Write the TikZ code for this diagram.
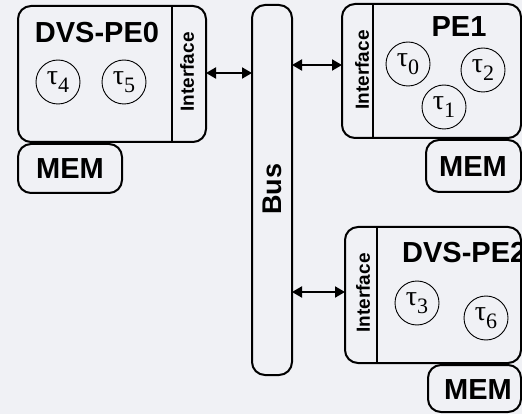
\documentclass[tikz,border=0pt]{standalone}
\usepackage{fontspec}
\setmainfont{Liberation Sans}
\newfontfamily\taufont{Liberation Serif}
\usetikzlibrary{arrows.meta}
\definecolor{bgcol}{RGB}{240,241,245}
\newcommand{\task}[1]{{\taufont\fontsize{28}{30}\selectfont τ\raisebox{-0.3em}{\fontsize{22}{24}\selectfont #1}}}
\tikzset{
  pebox/.style={draw,line width=2pt,rounded corners=13pt,inner sep=0pt,outer sep=0pt},
  ifstrip/.style={inner sep=0pt,outer sep=0pt},
  iflabel/.style={font=\bfseries\fontsize{19}{21}\selectfont,rotate=90,inner sep=0pt},
  pename/.style={font=\bfseries\fontsize{29}{32}\selectfont,inner sep=0pt},
  task/.style={draw,circle,line width=0.9pt,minimum size=44pt,inner sep=0pt},
  busarrow/.style={{Triangle[length=10pt,width=11pt]}-{Triangle[length=10pt,width=11pt]},line width=2pt}
}
\begin{document}
\begin{tikzpicture}[x=1pt,y=-1pt]
\useasboundingbox (0,0) rectangle (522,414);
\fill[bgcol] (0,0) rectangle (522,414);
\clip (0,0) rectangle (522,414);
% bus
\node[pebox,minimum width=40pt,minimum height=370pt] (bus) at (272,190) {};
\node[pename,font=\bfseries\fontsize{27}{30}\selectfont,rotate=90] (bustxt) at (272,189) {Bus};
% DVS-PE0
\node[pebox,minimum width=188pt,minimum height=136pt] (pe0) at (112,74) {};
\node[ifstrip,minimum width=34pt,minimum height=136pt] (pe0if) at (189,74) {};
\draw[line width=2pt] (pe0if.north west) -- (pe0if.south west);
\node[iflabel] (pe0iftxt) at (187,72) {Interface};
\node[pename] (pe0txt) at (97,33) {DVS-PE0};
\node[task] (t4) at (58,82) {\task{4}};
\node[task] (t5) at (124,82) {\task{5}};
\node[pebox,minimum width=104pt,minimum height=49pt] (mem0) at (70,168.5) {};
\node[pename] (mem0txt) at (70,169) {MEM};
% PE1
\node[pebox,minimum width=179pt,minimum height=134pt] (pe1) at (431.5,71) {};
\node[ifstrip,minimum width=31pt,minimum height=134pt] (pe1if) at (357.5,71) {};
\draw[line width=2pt] (pe1if.north east) -- (pe1if.south east);
\node[iflabel] (pe1iftxt) at (362,70) {Interface};
\node[pename] (pe1txt) at (459,27) {PE1};
\node[task] (t0) at (408,64) {\task{0}};
\node[task] (t2) at (483,70) {\task{2}};
\node[task] (t1) at (444,107) {\task{1}};
\node[pebox,minimum width=95pt,minimum height=52pt] (mem1) at (473.5,166) {};
\node[pename] (mem1txt) at (473,167) {MEM};
% DVS-PE2
\node[pebox,minimum width=176pt,minimum height=136pt] (pe2) at (433,295) {};
\node[ifstrip,minimum width=32pt,minimum height=136pt] (pe2if) at (361,295) {};
\draw[line width=2pt] (pe2if.north east) -- (pe2if.south east);
\node[iflabel] (pe2iftxt) at (363,293) {Interface};
\node[pename,anchor=west] (pe2txt) at (402,253) {DVS-PE2};
\node[task] (t3) at (417,303) {\task{3}};
\node[task] (t6) at (486,318) {\task{6}};
\node[pebox,minimum width=93pt,minimum height=47pt] (mem2) at (474.5,388.5) {};
\node[pename] (mem2txt) at (478,390) {MEM};
% links to the bus
\draw[busarrow] ([yshift=1pt]pe0.east) -- ([yshift=1pt]bus.west |- pe0.east);
\draw[busarrow] ([yshift=6pt]bus.east |- pe1if.west) -- ([yshift=6pt]pe1if.west);
\draw[busarrow] ([yshift=3pt]bus.east |- pe2if.west) -- ([yshift=3pt]pe2if.west);
\end{tikzpicture}
\end{document}
